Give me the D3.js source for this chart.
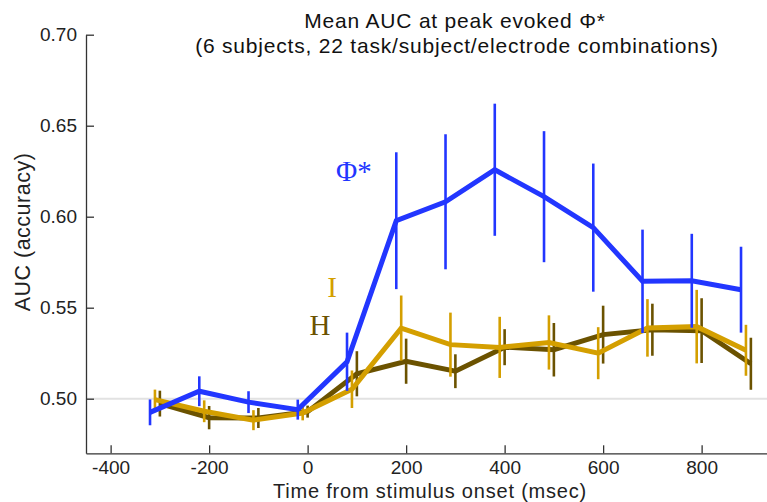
<!DOCTYPE html>
<html>
<head>
<meta charset="utf-8">
<script src="https://cdn.jsdelivr.net/npm/d3@7"></script>
<style>
  body { margin: 0; background: #fff; }
  svg { display: block; font-family: "Liberation Sans", Arial, sans-serif; }
</style>
</head>
<body>
<script>
// time points (msec) for each series, slightly offset like the original
const timesPhi = [-320, -220, -120, -20, 80, 180, 280, 380, 480, 580, 680, 780, 880];
const timesI   = [-310, -210, -110, -10, 90, 190, 290, 390, 490, 590, 690, 790, 890];
const timesH   = [-300, -200, -100, 0, 100, 200, 300, 400, 500, 600, 700, 800, 900];

// mean AUC and error (half-length of bar)
const phiMean = [0.4925, 0.5041, 0.4981, 0.4940, 0.5203, 0.5978, 0.6082, 0.6258, 0.6110, 0.5940, 0.5645, 0.5648, 0.5599];
const phiErr  = [0.0071, 0.0082, 0.0060, 0.0055, 0.0160, 0.0376, 0.0371, 0.0363, 0.0360, 0.0352, 0.0284, 0.0258, 0.0236];
const iMean   = [0.4995, 0.4931, 0.4882, 0.4921, 0.5052, 0.5388, 0.5297, 0.5282, 0.5309, 0.5250, 0.5389, 0.5396, 0.5266];
const iErr    = [0.0055, 0.0060, 0.0055, 0.0040, 0.0103, 0.0179, 0.0176, 0.0168, 0.0149, 0.0143, 0.0158, 0.0202, 0.0140];
const hMean   = [0.4973, 0.4896, 0.4894, 0.4929, 0.5137, 0.5206, 0.5151, 0.5283, 0.5269, 0.5352, 0.5379, 0.5374, 0.5192];
const hErr    = [0.0071, 0.0064, 0.0055, 0.0033, 0.0124, 0.0124, 0.0093, 0.0099, 0.0147, 0.0159, 0.0143, 0.0178, 0.0143];

const xTicks = [-400, -200, 0, 200, 400, 600, 800];
const yTicks = [0.50, 0.55, 0.60, 0.65, 0.70];

const W = 767, H = 502;
const svg = d3.select('body').append('svg').attr('width', W).attr('height', H);

const xscale = d3.scaleLinear().domain([-450, 950]).range([86, 775.5]);
const yscale = d3.scaleLinear().domain([0.47, 0.70]).range([453.3, 34.7]);

// chance line
svg.append('line')
  .attr('x1', xscale(-450)).attr('x2', W)
  .attr('y1', yscale(0.5)).attr('y2', yscale(0.5))
  .attr('stroke', '#e2e2e2').attr('stroke-width', 2);

// axes (ticks inside, matlab style)
const xaxis = d3.axisBottom(xscale).tickValues(xTicks).tickFormat(d => String(d))
  .tickSizeInner(-8).tickSizeOuter(0).tickPadding(7);
const yaxis = d3.axisLeft(yscale).tickValues(yTicks).tickFormat(d3.format('.2f'))
  .tickSizeInner(-8).tickSizeOuter(0).tickPadding(9);

const gx = svg.append('g').attr('transform', `translate(0,${yscale(0.47)})`).call(xaxis);
const gy = svg.append('g').attr('transform', `translate(${xscale(-450)},0)`).call(yaxis);
[gx, gy].forEach(g => {
  g.select('.domain').attr('stroke', '#333').attr('stroke-width', 1.3);
  g.selectAll('.tick line').attr('stroke', '#333').attr('stroke-width', 1.3);
  g.selectAll('.tick text').attr('fill', '#222').style('font-size', '19px')
    .style('font-family', '"Liberation Sans", Arial, sans-serif');
});

// series
const series = [
  {name: 'H', t: timesH, m: hMean, e: hErr, color: '#6b5200'},
  {name: 'I', t: timesI, m: iMean, e: iErr, color: '#d49f00'},
  {name: 'Phi', t: timesPhi, m: phiMean, e: phiErr, color: '#2236ff'}
];

const line = d3.line().x(d => xscale(d.t)).y(d => yscale(d.m));

series.forEach(s => {
  const pts = s.t.map((t, i) => ({t: t, m: s.m[i], e: s.e[i]}));
  const g = svg.append('g');
  g.append('path').datum(pts)
    .attr('d', line)
    .attr('fill', 'none')
    .attr('stroke', s.color)
    .attr('stroke-width', 5)
    .attr('stroke-linejoin', 'miter');
  g.selectAll('line').data(pts).join('line')
    .attr('x1', d => xscale(d.t)).attr('x2', d => xscale(d.t))
    .attr('y1', d => yscale(d.m - d.e)).attr('y2', d => yscale(d.m + d.e))
    .attr('stroke', s.color)
    .attr('stroke-width', 2.6);
});

// series labels
const serif = '"Liberation Serif", "DejaVu Serif", serif';
svg.append('text').attr('x', 336).attr('y', 181).attr('fill', '#2236ff')
  .style('font-family', serif).style('font-size', '29px').text('Φ*');
svg.append('text').attr('x', 332).attr('y', 297).attr('fill', '#d49f00').attr('text-anchor', 'middle')
  .style('font-family', serif).style('font-size', '29px').text('I');
svg.append('text').attr('x', 320).attr('y', 335).attr('fill', '#6b5200').attr('text-anchor', 'middle')
  .style('font-family', serif).style('font-size', '29px').text('H');

// title
svg.append('text').attr('x', 455).attr('y', 28.3).attr('text-anchor', 'middle')
  .attr('fill', '#111').style('font-size', '21px').style('letter-spacing', '0.8px')
  .text('Mean AUC at peak evoked Φ*');
svg.append('text').attr('x', 457).attr('y', 53.3).attr('text-anchor', 'middle')
  .attr('fill', '#111').style('font-size', '21px').style('letter-spacing', '0.8px')
  .text('(6 subjects, 22 task/subject/electrode combinations)');

// axis labels
svg.append('text').attr('x', 430).attr('y', 497.5).attr('text-anchor', 'middle')
  .attr('fill', '#222').style('font-size', '20px').style('letter-spacing', '0.8px')
  .text('Time from stimulus onset (msec)');
svg.append('text').attr('transform', 'translate(30,232) rotate(-90)').attr('text-anchor', 'middle')
  .attr('fill', '#222').style('font-size', '21.5px').style('letter-spacing', '0.5px')
  .text('AUC (accuracy)');
</script>
</body>
</html>
